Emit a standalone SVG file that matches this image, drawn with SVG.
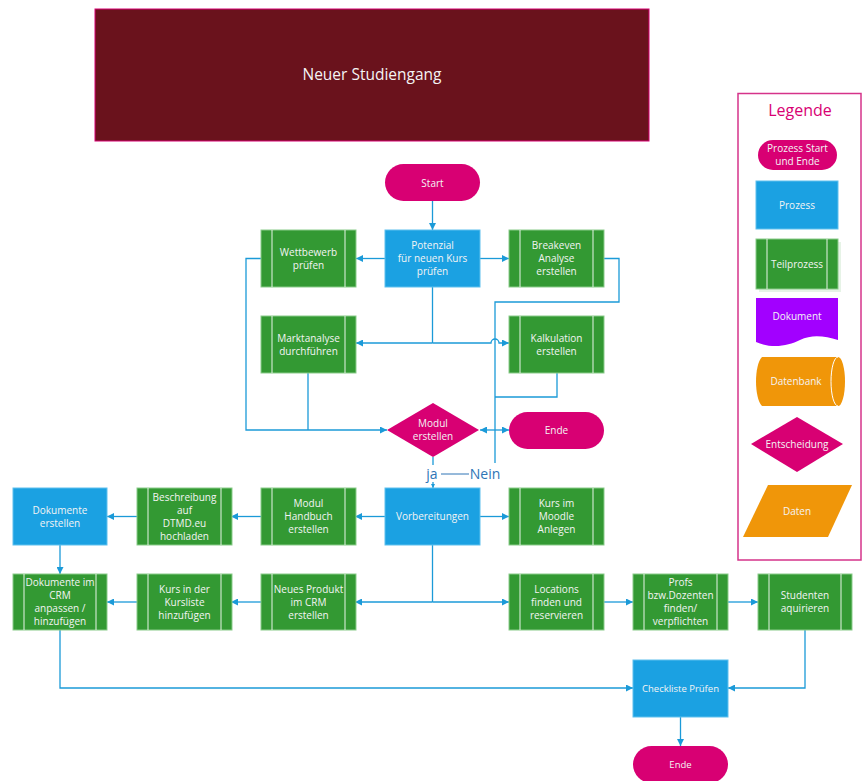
<svg xmlns="http://www.w3.org/2000/svg" width="862" height="781" viewBox="0 0 862 781">
  <style>
    .t { font-family: "Open Sans", "Noto Sans", "DejaVu Sans", sans-serif; font-size: 10px; fill: #F4F4F4; text-anchor: middle; }
    .proc { fill: #1BA1E2; stroke: #5FC0EE; stroke-width: 1; }
    .sub { fill: #339933; stroke: #8ACB8A; stroke-width: 1; }
    .subline { stroke: #E8F4E8; stroke-width: 1; }
    .term { fill: #D80073; }
    .conn { fill: none; stroke: #1B9AD8; stroke-width: 1.3; }
    .lbl { font-family: "Open Sans", "Noto Sans", sans-serif; font-size: 14px; fill: #2E75B6; text-anchor: middle; }
  </style>
  <defs>
    <marker id="arr" viewBox="0 0 10 10" refX="10" refY="5" markerWidth="7" markerHeight="7" orient="auto-start-reverse" markerUnits="userSpaceOnUse">
      <path d="M0,0 L10,5 L0,10 z" fill="#1B9AD8"/>
    </marker>
    <marker id="arrs" viewBox="0 0 10 10" refX="10" refY="5" markerWidth="4" markerHeight="4" orient="auto" markerUnits="userSpaceOnUse">
      <path d="M0,0 L10,5 L0,10 z" fill="#1B9AD8"/>
    </marker>
  </defs>

  <rect width="862" height="781" fill="#FFFFFF"/>

  <!-- Title -->
  <g id="title">
    <rect x="95" y="9" width="554" height="132" fill="#6A121C" stroke="#D80073" stroke-width="1"/>
    <text x="372" y="80" class="t" style="font-size:15.5px">Neuer Studiengang</text>
  </g>

  <!-- Connectors -->
  <g id="connectors">
    <path class="conn" d="M432.5,201 V230" marker-end="url(#arr)"/>
    <path class="conn" d="M385,258.5 H356" marker-end="url(#arr)"/>
    <path class="conn" d="M480,258.5 H509" marker-end="url(#arr)"/>
    <path class="conn" d="M261,258.5 H246 V430 H387" marker-end="url(#arr)"/>
    <path class="conn" d="M308,373 V430"/>
    <path class="conn" d="M432.5,287 V343"/>
    <path class="conn" d="M432.5,343 H356" marker-end="url(#arr)"/>
    <path class="conn" d="M432.5,343 H491 A4,4 0 0 1 499,343 H509" marker-end="url(#arr)"/>
    <path class="conn" d="M603,258.5 H619 V302 H495 V463"/>
    <path class="conn" d="M557,373 V397 H495"/>
    <path class="conn" d="M495,430 H480" marker-end="url(#arr)"/>
    <path class="conn" d="M495,430 H509" marker-end="url(#arr)"/>
    <path class="conn" d="M433,457 V465"/>
    <path class="conn" d="M441,474 H469" style="stroke:#2E75B6;stroke-width:1"/>
    <path class="conn" d="M433,482 V488" marker-end="url(#arrs)"/>
    <path class="conn" d="M385,516.5 H355" marker-end="url(#arr)"/>
    <path class="conn" d="M261,516.5 H231" marker-end="url(#arr)"/>
    <path class="conn" d="M137,516.5 H107" marker-end="url(#arr)"/>
    <path class="conn" d="M480,516.5 H509" marker-end="url(#arr)"/>
    <path class="conn" d="M60,545 V574" marker-end="url(#arr)"/>
    <path class="conn" d="M432.5,545 V602"/>
    <path class="conn" d="M432.5,602 H355" marker-end="url(#arr)"/>
    <path class="conn" d="M432.5,602 H509" marker-end="url(#arr)"/>
    <path class="conn" d="M261,602 H231" marker-end="url(#arr)"/>
    <path class="conn" d="M137,602 H107" marker-end="url(#arr)"/>
    <path class="conn" d="M604,602 H633" marker-end="url(#arr)"/>
    <path class="conn" d="M728,602 H758" marker-end="url(#arr)"/>
    <path class="conn" d="M60,630 V688 H633" marker-end="url(#arr)"/>
    <path class="conn" d="M805,630 V688 H728" marker-end="url(#arr)"/>
    <path class="conn" d="M680.5,717 V746" marker-end="url(#arr)"/>
  </g>

  <g id="start">
    <rect class="term" x="385" y="164" width="95" height="37" rx="18.5"/>
    <text class="t" x="432.5" y="186.5">Start</text>
  </g>

  <g id="potenzial">
    <rect class="proc" x="385" y="230" width="95" height="57"/>
    <text class="t" x="432.5" y="249"><tspan x="432.5">Potenzial</tspan><tspan x="432.5" dy="13">für neuen Kurs</tspan><tspan x="432.5" dy="13">prüfen</tspan></text>
  </g>

  <g id="wettbewerb">
    <rect class="sub" x="261" y="230" width="95" height="57"/>
    <line class="subline" x1="272" y1="230" x2="272" y2="287"/><line class="subline" x1="345" y1="230" x2="345" y2="287"/>
    <text class="t" x="308.5" y="255.5"><tspan x="308.5">Wettbewerb</tspan><tspan x="308.5" dy="13">prüfen</tspan></text>
  </g>

  <g id="breakeven">
    <rect class="sub" x="509" y="230" width="95" height="57"/>
    <line class="subline" x1="520" y1="230" x2="520" y2="287"/><line class="subline" x1="593" y1="230" x2="593" y2="287"/>
    <text class="t" x="556.5" y="249"><tspan x="556.5">Breakeven</tspan><tspan x="556.5" dy="13">Analyse</tspan><tspan x="556.5" dy="13">erstellen</tspan></text>
  </g>

  <g id="marktanalyse">
    <rect class="sub" x="261" y="316" width="95" height="57"/>
    <line class="subline" x1="272" y1="316" x2="272" y2="373"/><line class="subline" x1="345" y1="316" x2="345" y2="373"/>
    <text class="t" x="308.5" y="341.5"><tspan x="308.5">Marktanalyse</tspan><tspan x="308.5" dy="13">durchführen</tspan></text>
  </g>

  <g id="kalkulation">
    <rect class="sub" x="509" y="316" width="95" height="57"/>
    <line class="subline" x1="520" y1="316" x2="520" y2="373"/><line class="subline" x1="593" y1="316" x2="593" y2="373"/>
    <text class="t" x="556.5" y="341.5"><tspan x="556.5">Kalkulation</tspan><tspan x="556.5" dy="13">erstellen</tspan></text>
  </g>

  <g id="modul-entscheidung">
    <polygon points="433,403 479,430 433,457 387,430" fill="#D80073"/>
    <text class="t" x="433" y="427"><tspan x="433">Modul</tspan><tspan x="433" dy="13">erstellen</tspan></text>
  </g>

  <g id="ende-1">
    <rect class="term" x="509" y="412" width="95" height="37" rx="18.5"/>
    <text class="t" x="556.5" y="434">Ende</text>
  </g>

  <g id="labels">
    <text class="lbl" x="432" y="479">ja</text>
    <text class="lbl" x="485" y="479">Nein</text>
  </g>

  <g id="vorbereitungen">
    <rect class="proc" x="385" y="488" width="95" height="57"/>
    <text class="t" x="432.5" y="520">Vorbereitungen</text>
  </g>

  <g id="modul-handbuch">
    <rect class="sub" x="261" y="488" width="95" height="57"/>
    <line class="subline" x1="272" y1="488" x2="272" y2="545"/><line class="subline" x1="345" y1="488" x2="345" y2="545"/>
    <text class="t" x="308.5" y="507"><tspan x="308.5">Modul</tspan><tspan x="308.5" dy="13">Handbuch</tspan><tspan x="308.5" dy="13">erstellen</tspan></text>
  </g>

  <g id="beschreibung">
    <rect class="sub" x="137" y="488" width="95" height="57"/>
    <line class="subline" x1="148" y1="488" x2="148" y2="545"/><line class="subline" x1="221" y1="488" x2="221" y2="545"/>
    <text class="t" x="184.5" y="500.5"><tspan x="184.5">Beschreibung</tspan><tspan x="184.5" dy="13">auf</tspan><tspan x="184.5" dy="13">DTMD.eu</tspan><tspan x="184.5" dy="13">hochladen</tspan></text>
  </g>

  <g id="dokumente-erstellen">
    <rect class="proc" x="13" y="488" width="94" height="57"/>
    <text class="t" x="60" y="513.5"><tspan x="60">Dokumente</tspan><tspan x="60" dy="13">erstellen</tspan></text>
  </g>

  <g id="kurs-moodle">
    <rect class="sub" x="509" y="488" width="95" height="57"/>
    <line class="subline" x1="520" y1="488" x2="520" y2="545"/><line class="subline" x1="593" y1="488" x2="593" y2="545"/>
    <text class="t" x="556.5" y="507"><tspan x="556.5">Kurs im</tspan><tspan x="556.5" dy="13">Moodle</tspan><tspan x="556.5" dy="13">Anlegen</tspan></text>
  </g>

  <g id="dokumente-crm">
    <rect class="sub" x="13" y="574" width="94" height="56"/>
    <line class="subline" x1="24" y1="574" x2="24" y2="630"/><line class="subline" x1="96" y1="574" x2="96" y2="630"/>
    <text class="t" x="60" y="586"><tspan x="60">Dokumente im</tspan><tspan x="60" dy="13">CRM</tspan><tspan x="60" dy="13">anpassen /</tspan><tspan x="60" dy="13">hinzufügen</tspan></text>
  </g>

  <g id="kursliste">
    <rect class="sub" x="137" y="574" width="95" height="56"/>
    <line class="subline" x1="148" y1="574" x2="148" y2="630"/><line class="subline" x1="221" y1="574" x2="221" y2="630"/>
    <text class="t" x="184.5" y="592.5"><tspan x="184.5">Kurs in der</tspan><tspan x="184.5" dy="13">Kursliste</tspan><tspan x="184.5" dy="13">hinzufügen</tspan></text>
  </g>

  <g id="neues-produkt">
    <rect class="sub" x="261" y="574" width="95" height="56"/>
    <line class="subline" x1="272" y1="574" x2="272" y2="630"/><line class="subline" x1="345" y1="574" x2="345" y2="630"/>
    <text class="t" x="308.5" y="592.5"><tspan x="308.5">Neues Produkt</tspan><tspan x="308.5" dy="13">im CRM</tspan><tspan x="308.5" dy="13">erstellen</tspan></text>
  </g>

  <g id="locations">
    <rect class="sub" x="509" y="574" width="95" height="56"/>
    <line class="subline" x1="520" y1="574" x2="520" y2="630"/><line class="subline" x1="593" y1="574" x2="593" y2="630"/>
    <text class="t" x="556.5" y="592.5"><tspan x="556.5">Locations</tspan><tspan x="556.5" dy="13">finden und</tspan><tspan x="556.5" dy="13">reservieren</tspan></text>
  </g>

  <g id="profs">
    <rect class="sub" x="633" y="574" width="95" height="56"/>
    <line class="subline" x1="644" y1="574" x2="644" y2="630"/><line class="subline" x1="717" y1="574" x2="717" y2="630"/>
    <text class="t" x="680.5" y="586"><tspan x="680.5">Profs</tspan><tspan x="680.5" dy="13">bzw.Dozenten</tspan><tspan x="680.5" dy="13">finden/</tspan><tspan x="680.5" dy="13">verpflichten</tspan></text>
  </g>

  <g id="studenten">
    <rect class="sub" x="758" y="574" width="94" height="56"/>
    <line class="subline" x1="769" y1="574" x2="769" y2="630"/><line class="subline" x1="841" y1="574" x2="841" y2="630"/>
    <text class="t" x="805" y="599"><tspan x="805">Studenten</tspan><tspan x="805" dy="13">aquirieren</tspan></text>
  </g>

  <g id="checkliste">
    <rect class="proc" x="633" y="660" width="95" height="57"/>
    <text class="t" x="680.5" y="691.5" style="font-size:9.5px">Checkliste Prüfen</text>
  </g>

  <g id="ende-2">
    <rect class="term" x="633" y="746" width="95" height="37" rx="18.5"/>
    <text class="t" x="680.5" y="768" style="font-size:9.5px">Ende</text>
  </g>

  <!-- Legend -->
  <g id="legende">
    <rect x="738" y="93.5" width="123" height="466.5" fill="#FFFFFF" stroke="#D5338A" stroke-width="1.5"/>
    <text x="800" y="116" style="font-family:'Open Sans','Noto Sans',sans-serif;font-size:16px;fill:#D80073;text-anchor:middle">Legende</text>
    <rect class="term" x="758" y="140" width="79" height="30" rx="15"/>
    <text class="t" x="797.5" y="152"><tspan x="797.5">Prozess Start</tspan><tspan x="797.5" dy="13">und Ende</tspan></text>
    <rect class="proc" x="756" y="181" width="82" height="48"/>
    <text class="t" x="797" y="208.5">Prozess</text>
    <rect x="759" y="242" width="82" height="50" fill="#E6F3E6"/>
    <rect class="sub" x="756" y="239" width="82" height="50"/>
    <line class="subline" x1="767" y1="239" x2="767" y2="289"/><line class="subline" x1="827" y1="239" x2="827" y2="289"/>
    <text class="t" x="797" y="267.5">Teilprozess</text>
    <path d="M756,298 H838 V340 C825,336 812,334 800,340 C788,346 772,349 756,342 Z" fill="#A200FF"/>
    <text class="t" x="797" y="320">Dokument</text>
    <path d="M762,357 H838 A7,24.5 0 0 1 838,406 H762 C754,398 754,365 762,357 Z" fill="#F09609"/>
    <path d="M838,357 A7,24.5 0 0 0 838,406" fill="none" stroke="#FFFFFF" stroke-width="1"/>
    <text class="t" x="796" y="384.5">Datenbank</text>
    <polygon points="797,417 843,444 797,472 751,444" fill="#D80073"/>
    <text class="t" x="797" y="447.5">Entscheidung</text>
    <polygon points="768,485 852,485 828,537 743,537" fill="#F09609"/>
    <text class="t" x="797" y="514.5">Daten</text>
  </g>
</svg>
